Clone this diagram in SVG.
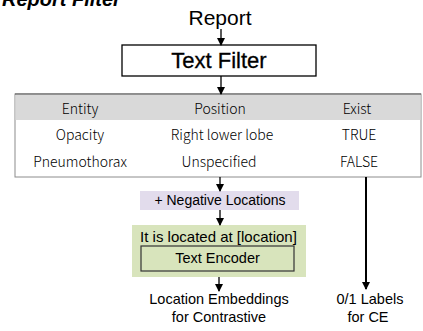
<svg xmlns="http://www.w3.org/2000/svg" width="423" height="331" viewBox="0 0 423 331">
<style>
.t{font-family:"Liberation Sans",Arial,sans-serif;fill:#000;text-anchor:middle}
.tb{font-family:"Noto Sans CJK SC","Liberation Sans",sans-serif;font-weight:300;fill:#000;text-anchor:middle;font-size:14px}
.ln{stroke:#000;stroke-width:1.3;fill:none}
</style>
<defs>
<marker id="ah" markerWidth="8" markerHeight="8" refX="7" refY="4" orient="auto" markerUnits="userSpaceOnUse">
<path d="M0,0 L8,4 L0,8 z" fill="#000"/>
</marker>
</defs>
<text x="2" y="6" font-family="Liberation Sans,Arial,sans-serif" font-weight="bold" font-style="italic" font-size="20">Report Filter</text>
<g id="report"><text class="t" x="220" y="25" font-size="21">Report</text></g>
<g id="textfilter">
<rect x="122" y="45" width="194" height="31" fill="#fff" stroke="#000" stroke-width="1.3"/>
<text class="t" x="219" y="68" font-size="22" stroke="#000" stroke-width="0.3">Text Filter</text>
</g>
<g id="table">
<rect x="15" y="94" width="406" height="83" fill="#fff" stroke="#8c8c8c" stroke-width="1"/>
<rect x="15.5" y="94.5" width="405" height="25.5" fill="#d9d9d9"/>
<line x1="15" y1="94" x2="421" y2="94" stroke="#555" stroke-width="1"/>
<text class="tb" x="80" y="114">Entity</text>
<text class="tb" x="220" y="114">Position</text>
<text class="tb" x="357" y="114">Exist</text>
<text class="tb" x="80" y="140">Opacity</text>
<text class="tb" x="222" y="140">Right lower lobe</text>
<text class="tb" x="359" y="140">TRUE</text>
<text class="tb" x="80" y="167">Pneumothorax</text>
<text class="tb" x="219" y="167">Unspecified</text>
<text class="tb" x="359" y="167">FALSE</text>
</g>
<g id="negloc">
<rect x="140" y="191" width="159" height="19" fill="#e2dcec"/>
<text class="t" x="220" y="205" font-size="14">+ Negative Locations</text>
</g>
<g id="encoder">
<rect x="132" y="225" width="174" height="52" fill="#d8e4bc"/>
<text class="t" x="218.5" y="242" font-size="15">It is located at [location]</text>
<rect x="141" y="246" width="153" height="25" fill="none" stroke="#333" stroke-width="1.2"/>
<text class="t" x="217.5" y="263" font-size="14.5">Text Encoder</text>
</g>
<g id="locemb">
<text class="t" x="219" y="304" font-size="14.5">Location Embeddings</text>
<text class="t" x="219" y="322" font-size="14.5">for Contrastive</text>
</g>
<g id="labels">
<text class="t" x="370" y="304" font-size="14.5">0/1 Labels</text>
<text class="t" x="368" y="322" font-size="14.5">for CE</text>
</g>
<g id="connectors">
<line class="ln" x1="221" y1="29" x2="221" y2="45" marker-end="url(#ah)"/>
<line class="ln" x1="221" y1="76" x2="221" y2="94" marker-end="url(#ah)"/>
<line class="ln" x1="220" y1="177" x2="220" y2="191" marker-end="url(#ah)"/>
<line class="ln" x1="220" y1="210" x2="220" y2="225" marker-end="url(#ah)"/>
<line class="ln" x1="219" y1="277" x2="219" y2="291" marker-end="url(#ah)"/>
<line x1="366" y1="177" x2="366" y2="289" stroke="#000" stroke-width="2" marker-end="url(#ah)"/>
</g>
</svg>
